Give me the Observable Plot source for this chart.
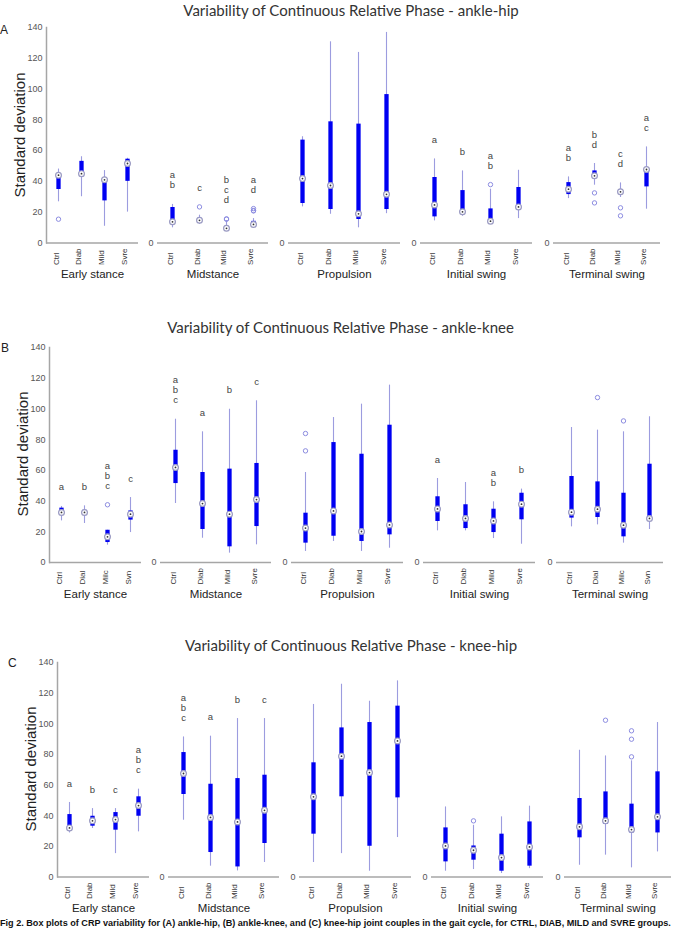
<!DOCTYPE html>
<html>
<head>
<meta charset="utf-8">
<script src="https://cdn.jsdelivr.net/npm/d3@7"></script>
<script src="https://cdn.jsdelivr.net/npm/@observablehq/plot@0.6"></script>
<style>
  html, body { margin: 0; padding: 0; background: #fff; }
  #page { position: relative; width: 694px; height: 931px; overflow: hidden; font-family: "Liberation Sans", Arial, sans-serif; }
  .abs { position: absolute; }
  .title { font-family: Lato, "Open Sans", sans-serif; font-size: 15px; color: #333; white-space: nowrap; transform: translate(-50%, -50%); }
  .ylab { font-size: 15px; color: #222; white-space: nowrap; transform: translate(-50%, -50%) rotate(-90deg); }
  .tag { font-size: 12px; color: #222; transform: translate(0, -50%); }
  .caption { font-weight: bold; font-size: 9.1px; color: #111; white-space: nowrap; }
</style>
</head>
<body>
<div id="page"></div>
<script>
// Gait phases and subject groups
const phases = ["Early stance", "Midstance", "Propulsion", "Initial swing", "Terminal swing"];
const groupTicks = ["Ctrl", "Diab", "Mild", "Svre"];
// the ankle-knee row shows clipped tick labels in two phases
const clippedTicks = ["Ctrl", "Dial", "Milc", "Svn"];

// ---- ankle-hip: per phase, values for Ctrl, Diab, Mild, Svre ----
const ahLow  = [[26.7, 30, 10.8, 20], [9.8, 12, 8.2, 9.8], [23.4, 18.6, 9.8, 19], [14.3, 17.3, 13.7, 15.8], [28.8, 37.5, 29.5, 21.9]];
const ahQ1   = [[34.7, 43, 27.3, 40], [12.6, 13, 8.6, 10.4], [25.6, 21.7, 15.2, 21.7], [16.9, 19.1, 13.7, 22.5], [31.4, 42.3, 32, 36.4]];
const ahMed  = [[44, 45, 41, 51.6], [13.7, 14.7, 9.5, 12], [41.8, 37.3, 18.9, 31.6], [24.7, 20.2, 14.1, 23.4], [34.9, 43.6, 33.2, 47.7]];
const ahQ3   = [[45, 53, 42, 54.4], [23, 16, 10.8, 14], [66.8, 78.7, 77.2, 96.4], [42.5, 34, 22.1, 36], [39.2, 46.8, 34.7, 48.3]];
const ahHigh = [[48, 56, 47, 55], [25, 18, 14.5, 15.8], [69, 130.7, 123.8, 136.8], [54.6, 46.8, 34.9, 47.2], [42.9, 51.6, 39, 62.4]];
// [phase, group, value]
const ahOutliers = [[0, 0, 15.4], [1, 1, 23.4], [1, 2, 15.4], [1, 2, 15.6], [1, 3, 20.8], [1, 3, 22.3], [1, 3, 21],
                    [3, 2, 37.9], [4, 1, 32.5], [4, 1, 26], [4, 2, 22.8], [4, 2, 17.6]];
// [phase, group, significance letters]
const ahLetters = [[1, 0, "ab"], [1, 1, "c"], [1, 2, "bcd"], [1, 3, "ad"],
                   [3, 0, "a"], [3, 1, "b"], [3, 2, "ab"],
                   [4, 0, "ab"], [4, 1, "bd"], [4, 2, "cd"], [4, 3, "ac"]];
const ahTicks = [groupTicks, groupTicks, groupTicks, groupTicks, groupTicks];

// ---- ankle-knee ----
const akLow  = [[27.1, 25.4, 11.3, 19.5], [38.4, 15.8, 6.1, 11.5], [7.2, 13.7, 7.2, 9.3], [20.6, 20.6, 15.6, 11.9], [23.2, 24.5, 12.6, 21.5]];
const akQ1   = [[31.5, 31.5, 13, 27.6], [51.4, 21.5, 10.2, 23.4], [12.6, 17.1, 13.7, 18], [26.7, 22.1, 19.5, 27.8], [28.9, 29.3, 16.7, 27.6]];
const akMed  = [[32.6, 32.6, 16.7, 31.5], [61.9, 38.4, 31.5, 41], [22.4, 33.6, 20.2, 24.5], [34.9, 28.7, 27.1, 38], [32.8, 34.7, 24.3, 28.7]];
const akQ3   = [[35.4, 34, 21, 33.6], [73.1, 58.6, 60.8, 64.5], [32.1, 78.1, 70.5, 89.4], [42.8, 37.6, 34.7, 45.1], [56, 52.5, 45.1, 64]];
const akHigh = [[36.5, 36.9, 21, 42.3], [93.3, 85.1, 99.8, 105.3], [58.6, 94.4, 103.1, 115.5], [54.7, 52.1, 39.5, 47.8], [87.9, 86.2, 85.1, 94.9]];
const akOutliers = [[0, 2, 37.6], [2, 0, 84], [2, 0, 72.7], [4, 1, 107.4], [4, 2, 92.2]];
const akLetters = [[0, 0, "a"], [0, 1, "b"], [0, 2, "abc"], [0, 3, "c"],
                   [1, 0, "abc"], [1, 1, "a"], [1, 2, "b"], [1, 3, "c"],
                   [3, 0, "a"], [3, 2, "ab"], [3, 3, "b"]];
const akTicks = [clippedTicks, groupTicks, groupTicks, groupTicks, clippedTicks];

// ---- knee-hip ----
const khLow  = [[28.7, 31.6, 15.2, 29.4], [37, 7, 3.9, 9.4], [9.4, 15.2, 3.7, 25.7], [3.7, 4.8, 2.2, 5.4], [7.6, 14.2, 5.9, 16.3]];
const khQ1   = [[30.5, 33.1, 30.5, 39.6], [53.8, 15.9, 6.5, 21.8], [27.9, 52.3, 20, 51.6], [9.8, 10.9, 3.7, 7], [25.5, 34.2, 28.7, 28.7]];
const khMed  = [[32, 36.6, 37.4, 46.6], [67.5, 38.8, 35.9, 43.5], [52.3, 78.8, 68.1, 88.8], [20.2, 17.4, 12.6, 19.6], [32.7, 36.6, 30.9, 39.2]];
const khQ3   = [[40.7, 39.6, 42, 52.3], [81.2, 60.5, 64.2, 66.4], [74.5, 97.3, 100.8, 111.5], [32, 20.2, 27.9, 35.9], [51.2, 55.5, 47.5, 68.6]];
const khHigh = [[48.6, 44.6, 44.6, 57.3], [91.4, 91.9, 103.4, 103.4], [112.6, 125.8, 114.7, 128], [45.7, 33.7, 39.2, 46.2], [82.7, 79, 75.8, 100.8]];
const khOutliers = [[3, 1, 36.6], [4, 1, 102.3], [4, 2, 95.4], [4, 2, 89.9], [4, 2, 78.4]];
const khLetters = [[0, 0, "a"], [0, 1, "b"], [0, 2, "c"], [0, 3, "abc"],
                   [1, 0, "abc"], [1, 1, "a"], [1, 2, "b"], [1, 3, "c"]];
const khTicks = [groupTicks, groupTicks, groupTicks, groupTicks, groupTicks];

const yTicks = [0, 20, 40, 60, 80, 100, 120, 140];

// ---- layout ----
const panelStart = [46, 157, 288, 420, 553];   // left edge of each phase panel
const panelWidth = [92, 111, 112, 112, 107];
const rows = [
  {tag: "A", coupling: "ankle-hip", low: ahLow, q1: ahQ1, med: ahMed, q3: ahQ3, high: ahHigh, outliers: ahOutliers, letters: ahLetters, ticks: ahTicks,
   top: 27.3, bottom: 242.7, dx: 0, titleX: 351, titleY: 10, labX: 18.5, labY: 135, tagX: 0, tagY: 30},
  {tag: "B", coupling: "ankle-knee", low: akLow, q1: akQ1, med: akMed, q3: akQ3, high: akHigh, outliers: akOutliers, letters: akLetters, ticks: akTicks,
   top: 346.7, bottom: 561.7, dx: 3, titleX: 340.5, titleY: 326.7, labX: 22, labY: 454, tagX: 1, tagY: 348},
  {tag: "C", coupling: "knee-hip", low: khLow, q1: khQ1, med: khMed, q3: khQ3, high: khHigh, outliers: khOutliers, letters: khLetters, ticks: khTicks,
   top: 662.3, bottom: 876.7, dx: 11, titleX: 351, titleY: 645, labX: 30, labY: 769, tagX: 8, tagY: 663}
];

const BOX = "#0000f2";
const WHISKER = "#9c9cdf";
const RING = "#9a9ac2";
const OUTLIER = "#8c8ce0";
const AXIS = "#a6a6a6";

const page = document.getElementById("page");

function addDiv(cls, text, x, y) {
  const d = document.createElement("div");
  d.className = "abs " + cls;
  d.textContent = text;
  d.style.left = x + "px";
  d.style.top = y + "px";
  page.appendChild(d);
  return d;
}

function panel(row, p) {
  const ticks = row.ticks[p];
  const boxes = ticks.map((t, g) => ({
    t, lo: row.low[p][g], q1: row.q1[p][g], med: row.med[p][g], q3: row.q3[p][g], hi: row.high[p][g]
  }));
  const outs = row.outliers.filter(d => d[0] === p).map(d => ({t: ticks[d[1]], v: d[2]}));
  // letters stack upward from just above the highest point of each group
  const topOf = g => Math.max(boxes[g].hi, ...outs.filter(o => o.t === ticks[g]).map(o => o.v));
  const letters = [];
  row.letters.filter(d => d[0] === p).forEach(([, g, s]) => {
    [...s].forEach((ch, i) => letters.push({t: ticks[g], v: topOf(g), ch, level: s.length - 1 - i}));
  });

  const first = p === 0;
  const mT = 8, mB = 48, mL = first ? 34 : 14, mR = 4;
  const innerH = row.bottom - row.top;
  const letterMarks = [0, 1, 2].map(level =>
    Plot.text(letters.filter(d => d.level === level), {
      x: "t", y: "v", text: "ch", dy: -19 - 10 * level, fontSize: 9.5, fill: "#444"
    })
  );

  const svg = Plot.plot({
    width: panelWidth[p] + mL + mR,
    height: innerH + mT + mB,
    marginTop: mT, marginBottom: mB, marginLeft: mL, marginRight: mR,
    style: {background: "transparent", fontFamily: "'Liberation Sans', Arial, sans-serif", overflow: "visible"},
    x: {type: "point", domain: ticks, padding: 0.5, axis: null},
    y: {domain: [0, 140]},
    marks: [
      Plot.ruleY([0], {stroke: AXIS, strokeWidth: 1.5}),
      first ? Plot.frame({anchor: "left", stroke: AXIS, strokeWidth: 1.5}) : null,
      Plot.axisY({ticks: first ? yTicks : [0], tickSize: 0, tickPadding: 4, fontSize: 9, fill: "#555", label: null}),
      Plot.ruleX(boxes, {x: "t", y1: "lo", y2: "hi", stroke: WHISKER, strokeWidth: 1.1}),
      Plot.ruleX(boxes, {x: "t", y1: "q1", y2: "q3", stroke: BOX, strokeWidth: 4.3}),
      Plot.dot(outs, {x: "t", y: "v", r: 2.2, stroke: OUTLIER, strokeWidth: 1, fill: "none"}),
      Plot.dot(boxes, {x: "t", y: "med", r: 2.9, fill: "white", stroke: RING, strokeWidth: 1.2}),
      Plot.dot(boxes, {x: "t", y: "med", r: 0.9, fill: "#333"}),
      ...letterMarks,
      Plot.text(boxes, {x: "t", text: "t", frameAnchor: "bottom", rotate: -90, textAnchor: "start", dy: 22, fontSize: 8, fill: "#333"}),
      Plot.text([phases[p]], {frameAnchor: "bottom", dy: 35, fontSize: 11.5, fill: "#222"})
    ]
  });
  svg.style.position = "absolute";
  svg.style.left = (panelStart[p] + row.dx - mL) + "px";
  svg.style.top = (row.top - mT) + "px";
  page.appendChild(svg);
}

for (const row of rows) {
  addDiv("title", "Variability of Continuous Relative Phase - " + row.coupling, row.titleX, row.titleY);
  addDiv("ylab", "Standard deviation", row.labX, row.labY);
  addDiv("tag", row.tag, row.tagX, row.tagY);
  phases.forEach((_, p) => panel(row, p));
}

addDiv("caption", "Fig 2. Box plots of CRP variability for (A) ankle-hip, (B) ankle-knee, and (C) knee-hip joint couples in the gait cycle, for CTRL, DIAB, MILD and SVRE groups.", 0, 918);
</script>
</body>
</html>
